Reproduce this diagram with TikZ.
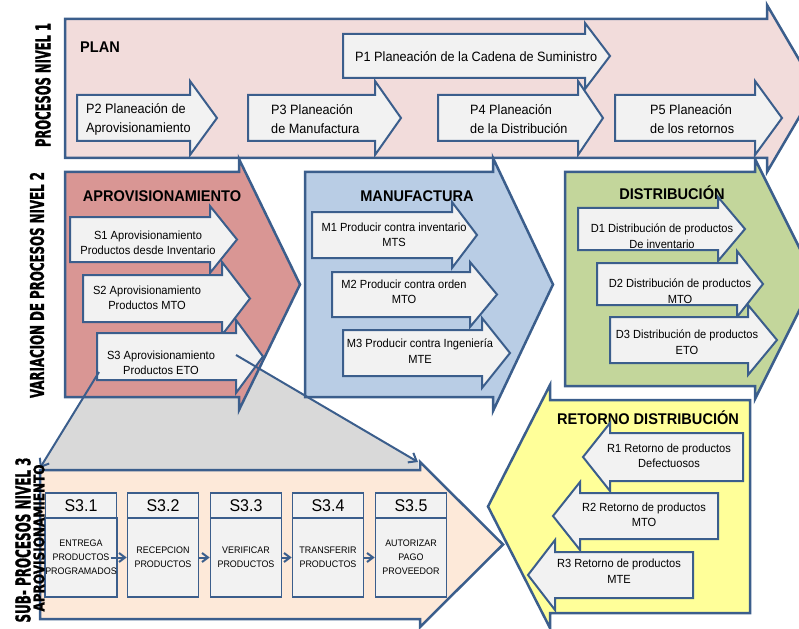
\documentclass[tikz,border=0pt]{standalone}
\usepackage{fontspec}
\setmainfont{Liberation Sans}[FakeStretch=0.94]
\newfontfamily\heavyfont{DejaVu Sans}[FakeBold=1.5]
\usepackage{graphicx}
\usetikzlibrary{arrows.meta}
\definecolor{bd}{HTML}{3B5E8C}
\definecolor{lvone}{HTML}{F2DCDB}
\definecolor{aprov}{HTML}{D99694}
\definecolor{manuf}{HTML}{B9CDE5}
\definecolor{distr}{HTML}{C3D69B}
\definecolor{retor}{HTML}{FFFF99}
\definecolor{lvthree}{HTML}{FDE9D9}
\definecolor{inbox}{HTML}{F2F2F2}
\definecolor{zoomgray}{HTML}{D9D9D9}
\newcommand\arr[7]{\filldraw[#1] (#2,#3) -- (#5,#3) -- (#5,#3-#7) -- (#6,{(#3+#4)/2}) -- (#5,#4+#7) -- (#5,#4) -- (#2,#4) -- cycle;}
\tikzset{
  big/.style={draw=bd,line width=2.5pt,line join=miter},
  inner/.style={draw=bd,line width=2pt,line join=miter,fill=inbox},
  lbl/.style={inner sep=0,align=center,font=\fontsize{11.8}{15.5}\selectfont},
  plbl/.style={inner sep=0,align=left,anchor=west,font=\fontsize{13.5}{19}\selectfont},
  ttl/.style={inner sep=0,font=\fontsize{15.5}{18}\selectfont\bfseries},
  vlbl/.style={inner sep=0,rotate=90},
  sbox/.style={draw=bd,line width=1.6pt,fill=inbox,minimum width=71pt,inner sep=0},
  shead/.style={sbox,minimum height=25pt,font=\fontsize{17}{20}\selectfont},
  sbody/.style={sbox,minimum height=79pt,align=center,font=\fontsize{9.5}{14}\selectfont},
  conn/.style={draw=bd,line width=2pt,-{Straight Barb[length=6pt,width=9pt,line width=2pt]}},
  zconn/.style={draw=bd,line width=2pt,-{Straight Barb[length=7pt,width=11pt,line width=2pt]}}
}
\begin{document}
\begin{tikzpicture}[x=1pt,y=-1pt]
\useasboundingbox (0,0) rectangle (799,628);
% ---------- level 1
\arr{big,fill=lvone}{65}{19}{158}{767}{816}{14}
\node[ttl,anchor=west] (plan) at (80,47) {PLAN};
\arr{inner}{343}{34}{78}{585}{610}{11}
\node[plbl] (p1) at (355,57) {P1 Planeación de la Cadena de Suministro};
\arr{inner}{77}{95}{141}{190}{217}{14}
\node[plbl] (p2) at (86,119) {P2 Planeación de\\Aprovisionamiento};
\arr{inner}{248}{95}{141}{375}{401}{14}
\node[plbl] (p3) at (271,119) {P3 Planeación\\de Manufactura};
\arr{inner}{438}{95}{141}{578}{603}{14}
\node[plbl] (p4) at (470,119) {P4 Planeación\\de la Distribución};
\arr{inner}{615}{95}{141}{755}{782}{14}
\node[plbl] (p5) at (650,119) {P5 Planeación\\de los retornos};
% ---------- zoom area
\coordinate (zl0) at (99,372);
\coordinate (zl1) at (40,468);
\coordinate (zr0) at (236,355);
\coordinate (zr1) at (418,462);
\fill[zoomgray] (zl0) -- (zr0) -- (zr1) -- (418,470) -- (40,470) -- (zl1) -- cycle;
% ---------- level 2
\arr{big,fill=aprov}{65}{172}{397}{239}{300}{13}
\node[ttl] (aprov) at (162,196) {APROVISIONAMIENTO};
\arr{inner}{70}{217}{262}{210}{237}{11}
\node[lbl] (s1) at (148,243) {S1 Aprovisionamiento\\Productos desde Inventario};
\arr{inner}{83}{275}{322}{222}{250}{13}
\node[lbl] (s2) at (147,298) {S2 Aprovisionamiento\\Productos MTO};
\arr{inner}{97}{333}{380}{236}{263}{13}
\node[lbl] (s3) at (161,363) {S3 Aprovisionamiento\\Productos ETO};
%
\arr{big,fill=manuf}{305}{172}{397}{493}{553}{14}
\node[ttl] (manuf) at (417,196) {MANUFACTURA};
\arr{inner}{312}{212}{258}{452}{477}{10}
\node[lbl] (m1) at (394,235) {M1 Producir contra inventario\\MTS};
\arr{inner}{332}{272}{317}{470}{497}{10}
\node[lbl] (m2) at (404,292) {M2 Producir contra orden\\MTO};
\arr{inner}{343}{330}{376}{482}{510}{12}
\node[lbl] (m3) at (420,351) {M3 Producir contra Ingeniería\\MTE};
%
\arr{big,fill=distr}{565}{172}{386}{755}{815}{13}
\node[ttl] (distr) at (672,193) {DISTRIBUCIÓN};
\arr{inner}{578}{208}{250}{718}{745}{11}
\node[lbl] (d1) at (662,236) {D1 Distribución de productos\\De inventario};
\arr{inner}{597}{263}{305}{737}{763}{12}
\node[lbl] (d2) at (680,291) {D2 Distribución de productos\\MTO};
\arr{inner}{610}{317}{363}{748}{777}{12}
\node[lbl] (d3) at (687,342) {D3 Distribución de productos\\ETO};
% ---------- retorno
\arr{big,fill=retor}{750}{400}{613}{550}{488}{15}
\node[ttl] (retor) at (648,418) {RETORNO DISTRIBUCIÓN};
\arr{inner}{743}{433}{481}{610}{583}{10}
\node[lbl] (r1) at (669,456) {R1 Retorno de productos\\Defectuosos};
\arr{inner}{718}{493}{539}{580}{553}{11}
\node[lbl] (r2) at (644,515) {R2 Retorno de productos\\MTO};
\arr{inner}{693}{552}{598}{555}{528}{12}
\node[lbl] (r3) at (619,571) {R3 Retorno de productos\\MTE};
% ---------- level 3
\arr{big,fill=lvthree}{40}{470}{619}{420}{503}{8}
\node[shead] (h1) at (81,505.5) {S3.1};
\node[shead] (h2) at (163,505.5) {S3.2};
\node[shead] (h3) at (246,505.5) {S3.3};
\node[shead] (h4) at (328,505.5) {S3.4};
\node[shead] (h5) at (411,505.5) {S3.5};
\node[sbody] (b1) at (81,557.5) {ENTREGA\\PRODUCTOS\\PROGRAMADOS};
\node[sbody] (b2) at (163,557.5) {RECEPCION\\PRODUCTOS};
\node[sbody] (b3) at (246,557.5) {VERIFICAR\\PRODUCTOS};
\node[sbody] (b4) at (328,557.5) {TRANSFERIR\\PRODUCTOS};
\node[sbody] (b5) at (411,557.5) {AUTORIZAR\\PAGO\\PROVEEDOR};
\draw[conn] ([xshift=-7pt]b1.east) -- (b2.west);
\draw[conn] (b2.east) -- (b3.west);
\draw[conn] (b3.east) -- (b4.west);
\draw[conn] (b4.east) -- (b5.west);
% ---------- zoom connectors
\draw[zconn] (zl0) -- (zl1);
\draw[zconn] (zr0) -- (zr1);
% ---------- side labels
\node[vlbl] (v1) at (43,85) {\resizebox{124pt}{15pt}{\heavyfont\bfseries PROCESOS NIVEL 1}};
\node[vlbl] (v2) at (37,285) {\resizebox{226pt}{14pt}{\heavyfont\bfseries VARIACION DE PROCESOS NIVEL 2}};
\node[vlbl] (v3) at (23,540) {\resizebox{165pt}{15pt}{\heavyfont\bfseries SUB- PROCESOS NIVEL 3}};
\node[vlbl] (v4) at (39,538) {\resizebox{147pt}{11pt}{\heavyfont\bfseries APROVISIONAMIENTO}};
\end{tikzpicture}
\end{document}
